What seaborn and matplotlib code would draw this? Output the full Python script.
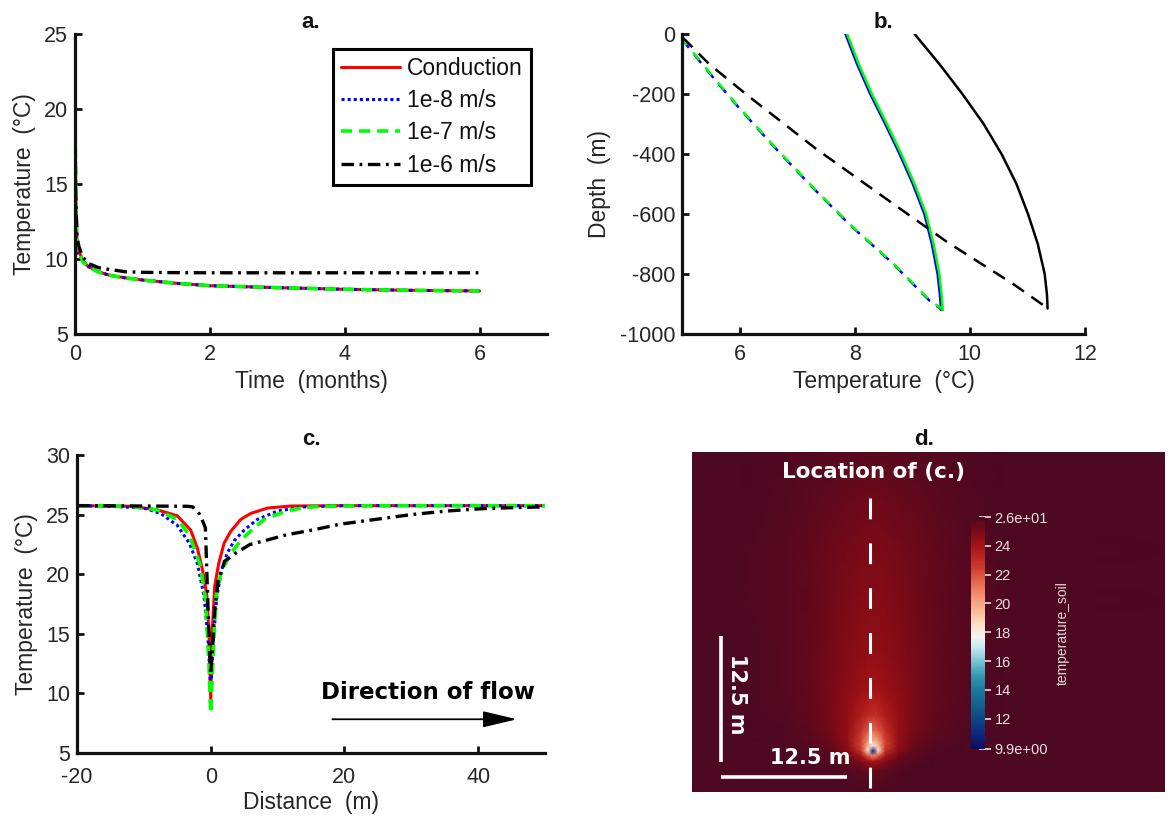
import numpy as np
import matplotlib
matplotlib.use("Agg")
import matplotlib.pyplot as plt
import seaborn as sns
from matplotlib.colors import LinearSegmentedColormap, Normalize

# ---------------- (a) temperature history at the borehole ----------------
time_months = [0, 0.01, 0.03, 0.06, 0.12, 0.2, 0.35, 0.5, 0.75, 1, 1.5, 2, 3, 4, 5, 6]
hist_conduction = [21.0, 14.0, 11.2, 10.5, 9.85, 9.49, 9.15, 8.93, 8.74, 8.60, 8.38, 8.22, 8.09, 7.98, 7.91, 7.87]
hist_1e8 = [22.3, 13.0, 10.4, 10.2, 9.85, 9.50, 9.15, 8.93, 8.74, 8.60, 8.38, 8.22, 8.09, 7.98, 7.91, 7.87]
hist_1e7 = [21.0, 13.5, 11.0, 10.4, 9.80, 9.45, 9.12, 8.92, 8.73, 8.60, 8.38, 8.22, 8.09, 7.98, 7.91, 7.87]
hist_1e6 = [20.0, 14.5, 11.5, 10.8, 10.1, 9.70, 9.42, 9.31, 9.15, 9.11, 9.09, 9.08, 9.08, 9.08, 9.08, 9.08]
series_labels = ["Conduction", "1e-8 m/s", "1e-7 m/s", "1e-6 m/s"]

# ---------------- (b) temperature along the borehole ----------------
depth_outer = [0, -100, -200, -300, -400, -500, -600, -700, -800, -870, -920]
outer_1e8 = [7.84, 8.04, 8.27, 8.53, 8.78, 9.01, 9.21, 9.34, 9.44, 9.48, 9.50]
outer_1e7 = [7.87, 8.07, 8.30, 8.56, 8.81, 9.04, 9.24, 9.37, 9.47, 9.51, 9.53]
depth_inner = [-17, -89, -161, -233, -372, -506, -639, -761, -889, -917]
inner_1e8 = [5.00, 5.30, 5.61, 5.93, 6.58, 7.24, 7.93, 8.64, 9.30, 9.50]
inner_1e7 = [5.00, 5.31, 5.62, 5.94, 6.59, 7.25, 7.94, 8.65, 9.31, 9.52]
depth_outer_1e6 = [0, -100, -200, -300, -400, -500, -600, -700, -800, -870, -915]
outer_1e6 = [9.04, 9.47, 9.87, 10.24, 10.55, 10.81, 11.01, 11.18, 11.30, 11.34, 11.35]
depth_inner_1e6 = [-11, -100, -211, -383, -539, -694, -833, -914]
inner_1e6 = [5.01, 5.47, 6.18, 7.33, 8.47, 9.61, 10.75, 11.35]

# ---------------- (c) temperature along the flow line ----------------
dist_cond = [-20, -12, -8, -5, -3, -2, -1.2, -0.6, -0.25, 0, 0.25, 0.6, 1.2, 2, 3, 4.5, 6, 8.5, 12, 20, 50]
line_cond = [25.75, 25.7, 25.4, 24.9, 23.7, 22.2, 20.3, 18.3, 15.0, 9.3, 15.5, 19.0, 20.9, 22.6, 23.6, 24.6,
             25.1, 25.55, 25.72, 25.75, 25.75]
dist_1e8 = [-20, -15, -10, -7.5, -5, -3.2, -2, -1, -0.4, 0, 0.4, 0.9, 1.6, 2.5, 3.5, 5, 7, 10, 14, 20, 50]
line_1e8 = [25.75, 25.7, 25.55, 25.1, 24.1, 22.6, 20.9, 18.2, 14.5, 10.3, 14.5, 18.0, 20.3, 21.8, 22.8, 23.7,
            24.6, 25.3, 25.65, 25.75, 25.75]
dist_1e7 = [-20, -12, -8, -5, -3.2, -1.6, -0.8, -0.3, 0, 0.3, 0.8, 1.6, 3.2, 4.8, 6.5, 8, 11.3, 14, 17, 25, 50]
line_1e7 = [25.75, 25.7, 25.4, 24.6, 23.3, 20.8, 18.0, 13.0, 8.3, 12.5, 18.1, 20.3, 21.9, 23.0, 23.9, 24.6,
            25.3, 25.6, 25.7, 25.75, 25.75]
dist_1e6 = [-20, -3.5, -2.7, -1.6, -0.8, -0.3, 0, 0.3, 0.6, 1.1, 2.1, 3.8, 5.9, 8, 11.3, 15.6, 19.4, 24.7,
            30, 35.3, 40.7, 46, 50]
line_1e6 = [25.75, 25.7, 25.65, 25.0, 23.9, 15.5, 11.6, 14.0, 17.0, 19.4, 21.1, 21.8, 22.5, 22.8, 23.3, 23.75,
            24.2, 24.6, 25.0, 25.3, 25.5, 25.6, 25.65]

# ---------------- (d) soil temperature field (half plane, mirrored about the flow line) ----------------
field_x_half = [0, 0.5, 1.2, 2.5, 4, 6, 9, 13, 30]
field_y = [-4.1, -2, -1, -0.5, 0, 0.5, 1, 2, 3.5, 6, 10, 15, 20, 25, 29.7]
field_temp = [
    [26.0, 26.0, 26.0, 26.0, 26.0, 26.0, 26.0, 26.0, 26.0],
    [25.4, 25.5, 25.65, 25.85, 25.95, 26.0, 26.0, 26.0, 26.0],
    [23.8, 24.1, 24.8, 25.5, 25.8, 25.95, 26.0, 26.0, 26.0],
    [20.5, 21.8, 23.9, 25.2, 25.7, 25.9, 26.0, 26.0, 26.0],
    [9.9, 18.5, 22.8, 24.8, 25.5, 25.85, 25.97, 26.0, 26.0],
    [17.5, 19.5, 22.4, 24.5, 25.35, 25.8, 25.95, 26.0, 26.0],
    [19.6, 20.3, 22.4, 24.4, 25.25, 25.7, 25.93, 26.0, 26.0],
    [21.4, 21.8, 22.9, 24.4, 25.1, 25.6, 25.9, 26.0, 26.0],
    [22.9, 23.1, 23.6, 24.4, 25.0, 25.5, 25.85, 25.98, 26.0],
    [23.9, 24.0, 24.2, 24.6, 25.0, 25.45, 25.8, 25.97, 26.0],
    [24.5, 24.5, 24.6, 24.8, 25.1, 25.45, 25.75, 25.95, 26.0],
    [24.75, 24.75, 24.8, 24.95, 25.2, 25.5, 25.75, 25.93, 26.0],
    [25.0, 25.0, 25.05, 25.15, 25.3, 25.55, 25.78, 25.93, 26.0],
    [25.3, 25.3, 25.33, 25.4, 25.5, 25.65, 25.82, 25.95, 26.0],
    [25.7, 25.7, 25.72, 25.75, 25.8, 25.85, 25.92, 25.98, 26.0],
]
cbar_ticks = [9.9, 12, 14, 16, 18, 20, 22, 24, 26]
cbar_labels = ["9.9e+00", "12", "14", "16", "18", "20", "22", "24", "2.6e+01"]
cmap_values = [9.9, 11.0, 12.5, 14.0, 15.0, 16.0, 17.0, 17.7, 18.5, 19.5, 21.0, 22.5, 24.0, 25.0, 26.0]
cmap_colors = ["#0b0d5e", "#0c2c7a", "#0f5688", "#1b7a9b", "#3598b3", "#7cc5d4", "#c8eaee", "#f3f5f0",
               "#fbe1c8", "#f9bb95", "#ef7e5c", "#cd3b2e", "#a51215", "#7c0a16", "#4d0822"]

# ---------------- style ----------------
sns.set_theme(style="ticks")
plt.rcParams["font.family"] = ["Liberation Sans", "DejaVu Sans"]
plt.rcParams["lines.scale_dashes"] = False
plt.rcParams["axes.unicode_minus"] = False
TXT = "#262626"

W, H = 1175, 818
fig = plt.figure(figsize=(W / 100, H / 100), dpi=100)


def px_axes(x0, y0, x1, y1):
    return fig.add_axes([x0 / W, 1 - y1 / H, (x1 - x0) / W, (y1 - y0) / H])


def matlab_style(ax, xpad=7):
    for s in ("top", "right"):
        ax.spines[s].set_visible(False)
    for s in ("left", "bottom"):
        ax.spines[s].set_linewidth(2.3)
        ax.spines[s].set_color("#111111")
    ax.tick_params(direction="in", length=5, width=2, labelsize=15.5, colors="#111111",
                   labelcolor=TXT, pad=5)
    ax.tick_params(axis="x", pad=xpad)


def draw(ax, x, y, color, lw, dashes=None, label=None, offset=0):
    sns.lineplot(x=x, y=y, ax=ax, color=color, lw=lw, sort=False, estimator=None,
                 label=label, legend=False)
    line = ax.lines[-1]
    if dashes is not None:
        line.set_linestyle((offset, dashes))
    return line


DOT = (2.2, 2.2)
DASH = (8, 5)
DASHDOT = (9, 4, 2, 4)
TITLE = dict(fontweight="bold", fontsize=16, color="#111111")

# ---- panel a ----
axa = px_axes(75, 34, 547, 334)
draw(axa, time_months, hist_conduction, "#ff0000", 2.2, label=series_labels[0])
draw(axa, time_months, hist_1e8, "#0000ff", 2.2, DOT, label=series_labels[1])
draw(axa, time_months, hist_1e7, "#00ff00", 2.6, DASH, label=series_labels[2])
draw(axa, time_months, hist_1e6, "#000000", 2.4, DASHDOT, label=series_labels[3])
axa.set_xlim(0, 7)
axa.set_ylim(5, 25)
axa.set_xticks([0, 2, 4, 6])
axa.set_yticks([5, 10, 15, 20, 25])
matlab_style(axa)
axa.set_xlabel("Time  (months)", fontsize=16.5, color=TXT, labelpad=4)
axa.set_ylabel("Temperature  (°C)", fontsize=16.5, color=TXT, labelpad=6)
axa.set_title("a.", pad=4, **TITLE)
leg = axa.legend(loc="upper right", bbox_to_anchor=(531 / W, 1 - 49 / H), bbox_transform=fig.transFigure,
                 borderaxespad=0, fontsize=16.5, handlelength=2.6, handletextpad=0.3, labelspacing=0.4,
                 borderpad=0.35, frameon=True, fancybox=False, framealpha=1, edgecolor="black")
leg.get_frame().set_linewidth(2.2)
for t in leg.get_texts():
    t.set_color("#111111")

# ---- panel b ----
axb = px_axes(682, 34, 1085, 334)
draw(axb, outer_1e8, depth_outer, "#0000ff", 1.8)
draw(axb, outer_1e7, depth_outer, "#00ff00", 1.8)
draw(axb, inner_1e8, depth_inner, "#0000ff", 1.8, (8, 6))
draw(axb, inner_1e7, depth_inner, "#00ff00", 1.8, (7, 7), offset=1.5)
draw(axb, outer_1e6, depth_outer_1e6, "#000000", 1.8)
draw(axb, inner_1e6, depth_inner_1e6, "#000000", 1.8, (10, 6.5))
axb.set_xlim(5, 12)
axb.set_ylim(-1000, 0)
axb.set_xticks([6, 8, 10, 12])
axb.set_yticks(list(range(-1000, 1, 200)))
matlab_style(axb)
axb.set_xlabel("Temperature  (°C)", fontsize=16.5, color=TXT, labelpad=4)
axb.set_ylabel("Depth  (m)", fontsize=16.5, color=TXT, labelpad=6)
axb.set_title("b.", pad=4, **TITLE)

# ---- panel c ----
axc = px_axes(77, 455, 545, 753)
draw(axc, dist_cond, line_cond, "#ff0000", 2.2)
draw(axc, dist_1e8, line_1e8, "#0000ff", 2.2, DOT)
draw(axc, dist_1e7, line_1e7, "#00ff00", 2.6, DASH)
draw(axc, dist_1e6, line_1e6, "#000000", 2.4, DASHDOT)
axc.set_xlim(-20, 50)
axc.set_ylim(5, 30)
axc.set_xticks([-20, 0, 20, 40])
axc.set_yticks([5, 10, 15, 20, 25, 30])
matlab_style(axc, xpad=10)
axc.set_xlabel("Distance  (m)", fontsize=16.5, color=TXT, labelpad=2)
axc.set_ylabel("Temperature  (°C)", fontsize=16.5, color=TXT, labelpad=6)
axc.set_title("c.", pad=7, **TITLE)
axc.text(32.5, 10.1, "Direction of flow", family="DejaVu Sans", fontweight="bold", fontsize=16.5,
         ha="center", va="center", color="black")
axc.annotate("", xy=(45.8, 7.83), xytext=(18.2, 7.83),
             arrowprops=dict(arrowstyle="-|>,head_length=1.05,head_width=0.25", mutation_scale=20,
                             lw=1.3, color="black", shrinkA=0, shrinkB=0))

# ---- panel d ----
axd = px_axes(692, 452, 1165, 792)
cmap = LinearSegmentedColormap.from_list(
    "soil", [((v - cmap_values[0]) / (cmap_values[-1] - cmap_values[0]), c)
             for v, c in zip(cmap_values, cmap_colors)])
norm = Normalize(vmin=9.9, vmax=26.0)
xh = np.array(field_x_half)
xs = np.concatenate([-xh[:0:-1], xh])
zh = np.array(field_temp)
Z = np.concatenate([zh[:, :0:-1], zh], axis=1)
X, Y = np.meshgrid(xs, np.array(field_y))
mesh = axd.pcolormesh(X, Y, Z, cmap=cmap, norm=norm, shading="gouraud", rasterized=True)
axd.set_xlim(-18, 29)
axd.set_ylim(-4.1, 29.7)
axd.set_axis_off()
axd.set_title("d.", pad=5, x=0.49, **TITLE)

# flow line of panel c and scale bars
axd.plot([-0.35, -0.35], [25.15, -3.7], color="white", lw=2.2, dashes=(15, 17.3), solid_capstyle="butt")
axd.plot([-15.1, -15.1], [-1.13, 11.37], color="white", lw=2.6, solid_capstyle="butt")
axd.plot([-15.1, -2.6], [-2.58, -2.58], color="white", lw=2.6, solid_capstyle="butt")
axd.text(0, 27.7, "Location of (c.)", family="DejaVu Sans", fontweight="bold", fontsize=15.5,
         color="white", ha="center", va="center")
axd.text(-6.26, -0.7, "12.5 m", family="DejaVu Sans", fontweight="bold", fontsize=15,
         color="white", ha="center", va="center")
axd.text(-13.5, 5.57, "12.5 m", family="DejaVu Sans", fontweight="bold", fontsize=15,
         color="white", ha="center", va="center", rotation=-90)

cax = px_axes(971, 517, 985, 749)
cb = fig.colorbar(mesh, cax=cax)
cb.outline.set_visible(False)
cb.set_ticks(cbar_ticks)
cb.set_ticklabels(cbar_labels)
cax.tick_params(colors="#e8e0e0", labelcolor="#e8e0e0", direction="inout", length=8, width=1.2,
                labelsize=10.5, pad=3)
fig.text(1063 / W, 1 - 633 / H, "temperature_soil", rotation=90, ha="center", va="center",
         color="#e0d6d8", fontsize=10)

fig.savefig("out.png", dpi=100)
